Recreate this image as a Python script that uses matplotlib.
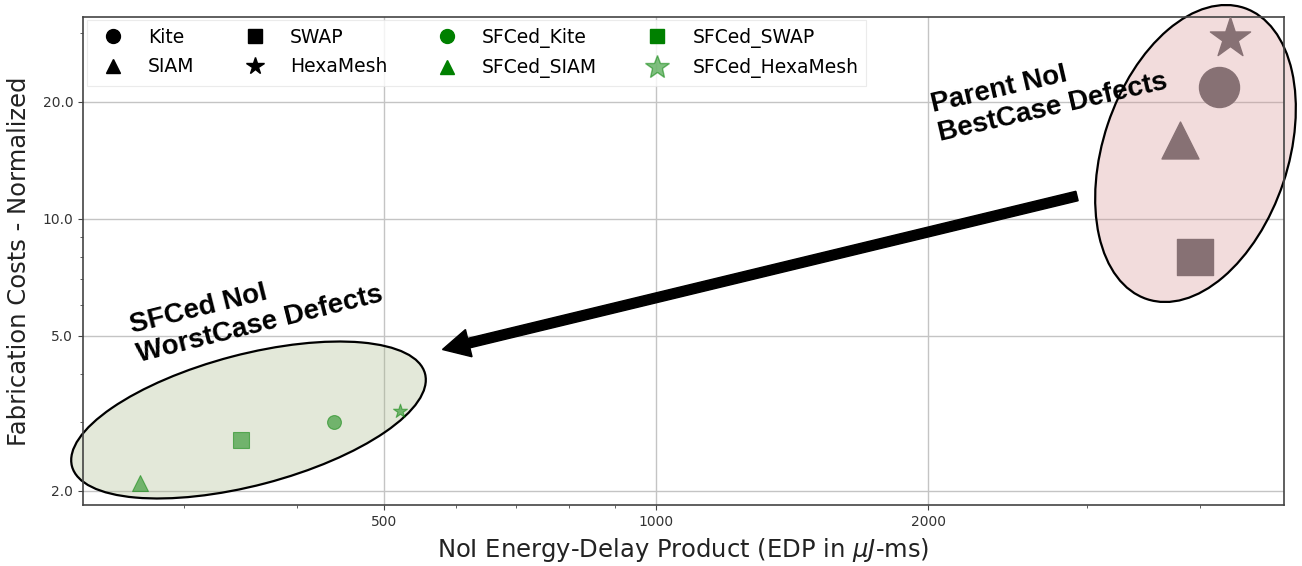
import matplotlib.pyplot as plt
from matplotlib.patches import Ellipse, FancyArrow
from matplotlib.lines import Line2D
from matplotlib.transforms import Affine2D
from matplotlib.ticker import FixedLocator, FixedFormatter, NullFormatter

# Topologies and their markers
topologies = ['Kite', 'SIAM', 'SWAP', 'HexaMesh']
topo_markers = ['o', '^', 's', '*']

# Parent NoI (best-case defects)
parent_edp = [4201, 3800, 3954, 4318]
parent_cost = [21.8, 15.9, 8.0, 29.1]

# SFCed NoI (worst-case defects)
sfced_edp = [440, 268, 347, 520]
sfced_cost = [3.0, 2.1, 2.7, 3.2]

x_ticks = [500, 1000, 2000]
x_tick_labels = ['500', '1000', '2000']
y_ticks = [2, 5, 10, 20]
y_tick_labels = ['2.0', '5.0', '10.0', '20.0']

# marker areas (pt^2)
parent_sizes = [830, 708, 676, 924]
sfced_sizes = [100, 132, 132, 112]

W, H = 1302, 566
fig, ax = plt.subplots(figsize=(W / 100, H / 100), dpi=100)
fig.subplots_adjust(left=83 / W, right=1284 / W, top=1 - 16.7 / H, bottom=1 - 505 / H)

# pixel coordinates (origin top-left) for the callout shapes
px = Affine2D().scale(1 / 100, -1 / 100).translate(0, H / 100) + fig.dpi_scale_trans

for x, y, m, s in zip(parent_edp, parent_cost, topo_markers, parent_sizes):
    ax.scatter(x, y, marker=m, s=s, color='#877174', zorder=3)
for x, y, m, s in zip(sfced_edp, sfced_cost, topo_markers, sfced_sizes):
    ax.scatter(x, y, marker=m, s=s, color='green', alpha=0.5, linewidths=0.8, zorder=3)

ax.set_xscale('log')
ax.set_yscale('log')
ax.set_xlim(232, 4955)
ax.set_ylim(1.84, 33.05)

ax.xaxis.set_major_locator(FixedLocator(x_ticks))
ax.xaxis.set_major_formatter(FixedFormatter(x_tick_labels))
ax.xaxis.set_minor_formatter(NullFormatter())
ax.yaxis.set_major_locator(FixedLocator(y_ticks))
ax.yaxis.set_major_formatter(FixedFormatter(y_tick_labels))
ax.yaxis.set_minor_formatter(NullFormatter())
ax.tick_params(which='both', colors='#444444', labelcolor='#333333', labelsize=10)

ax.grid(True, which='major', color='#c4c4c4', linewidth=1.0)
for sp in ax.spines.values():
    sp.set_color('#444444')
    sp.set_linewidth(1.2)

ax.set_xlabel(r'NoI Energy-Delay Product (EDP in $\mu J$-ms)', fontsize=17.5,
              color='#222222', labelpad=5)
ax.set_ylabel('Fabrication Costs - Normalized', fontsize=17.5, color='#222222',
              labelpad=8)

# legend with solid proxy markers
handles = []
for name, m in zip(topologies, topo_markers):
    handles.append(Line2D([], [], linestyle='none', marker=m, color='black',
                          markersize=13 if m == '*' else 10, label=name))
for name, m in zip(topologies, topo_markers):
    if m == '*':
        h = Line2D([], [], linestyle='none', marker=m, color='green', alpha=0.5,
                   markersize=18, label='SFCed_' + name)
    else:
        h = Line2D([], [], linestyle='none', marker=m, color='green',
                   markersize=10, label='SFCed_' + name)
    handles.append(h)
leg = ax.legend(handles=handles, loc='upper left', ncol=4, fontsize=13.5,
                frameon=True, fancybox=False, edgecolor='#e6e6e6',
                columnspacing=2.2, handletextpad=0.87, borderaxespad=0.2,
                labelspacing=0.55)
leg.get_frame().set_linewidth(0.8)

# callout ellipses
ax.add_patch(Ellipse((1195.5, 153.5), 307, 185, angle=-71.5, transform=px,
                     facecolor=(212 / 255, 142 / 255, 142 / 255, 0.3),
                     edgecolor='black', linewidth=1.6, clip_on=False, zorder=2))
ax.add_patch(Ellipse((248.5, 420), 365, 131, angle=-14.7, transform=px,
                     facecolor=(165 / 255, 182 / 255, 132 / 255, 0.3),
                     edgecolor='black', linewidth=1.6, clip_on=False, zorder=2))

# arrow from parent group to SFCed group
ax.add_patch(FancyArrow(1077, 196, 442.5 - 1077, 349.5 - 196, width=9.7,
                        head_width=28, head_length=27, length_includes_head=True,
                        transform=px, color='black', clip_on=False, zorder=4))

ax.text(935, 120, 'Parent NoI\nBestCase Defects', transform=px, rotation=13,
        rotation_mode='anchor', ha='left', va='center', multialignment='left',
        fontsize=20, fontweight='bold', family='Liberation Sans', zorder=5)
ax.text(134, 341, 'SFCed NoI\nWorstCase Defects', transform=px, rotation=14,
        rotation_mode='anchor', ha='left', va='center', multialignment='left',
        fontsize=20, fontweight='bold', family='Liberation Sans', zorder=5)

fig.savefig('out.png', dpi=100)
